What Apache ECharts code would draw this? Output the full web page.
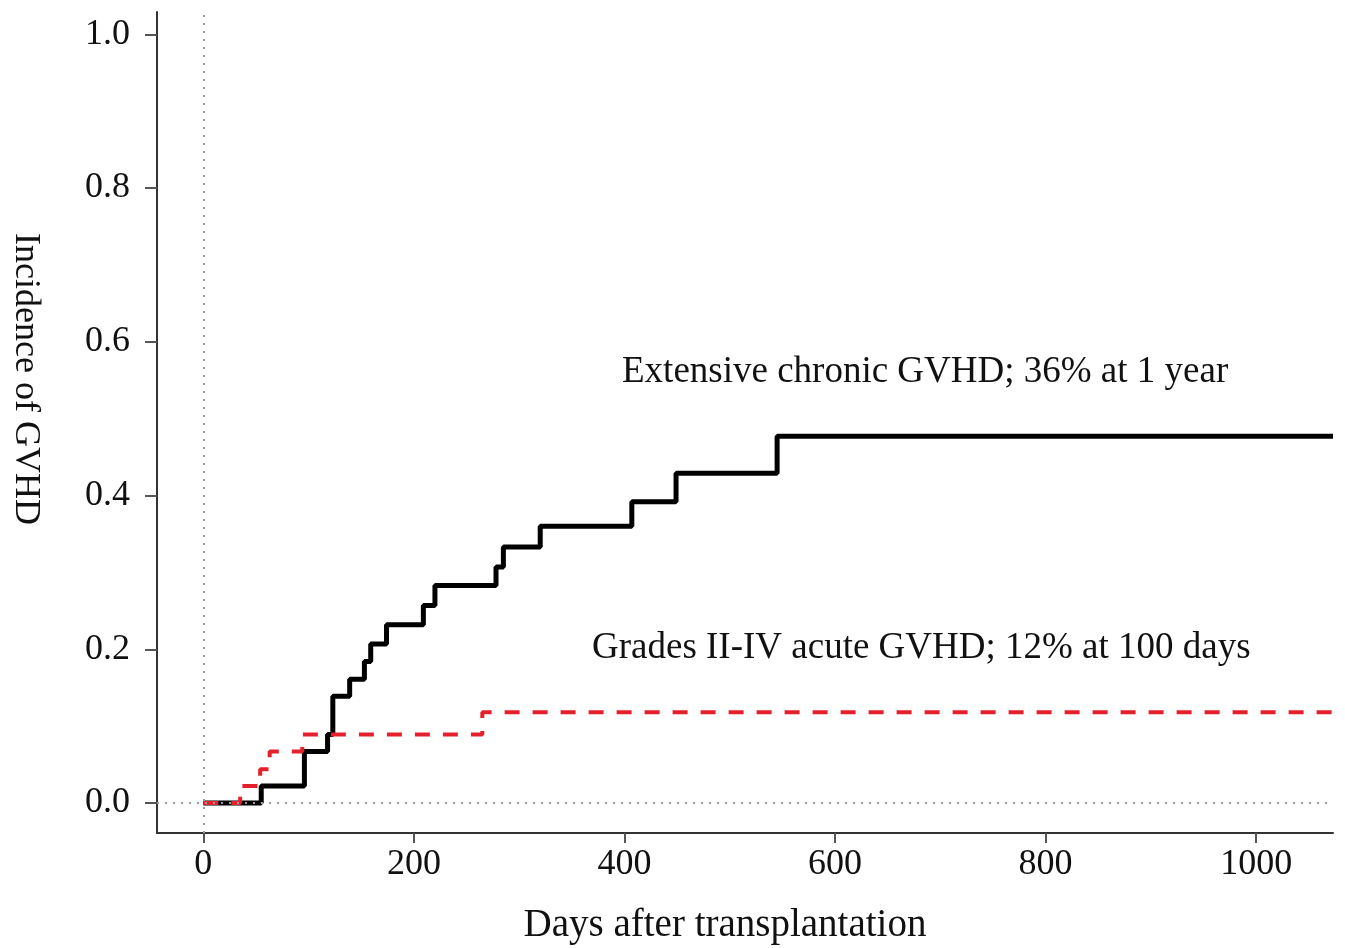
<!DOCTYPE html>
<html>
<head>
<meta charset="utf-8">
<script src="https://cdn.jsdelivr.net/npm/echarts@6/dist/echarts.min.js"></script>
<style>
    html, body { margin: 0; padding: 0; background: #fff; }
    #chart_container { width: 1345px; height: 948px; }
</style>
</head>
<body>
<div id="chart_container"></div>
<script>
// step curves (days, cumulative incidence)
const chronicDays = [0, 55, 96, 118, 123, 139, 153, 159, 174, 209, 220, 278, 285, 320, 407, 449, 545, 1073];
const chronicInc = [0, 0.022, 0.067, 0.089, 0.139, 0.161, 0.184, 0.207, 0.232, 0.257, 0.283, 0.307, 0.333, 0.36, 0.392, 0.429, 0.477, 0.477];
const acuteDays = [0, 35, 54, 63, 94, 265, 1073];
const acuteInc = [0, 0.022, 0.044, 0.067, 0.089, 0.118, 0.118];

const xTicks = [0, 200, 400, 600, 800, 1000];
const yTicks = [0, 0.2, 0.4, 0.6, 0.8, 1.0];

const chronicLabel = 'Extensive chronic GVHD; 36% at 1 year';
const acuteLabel = 'Grades II-IV acute GVHD; 12% at 100 days';
const xTitle = 'Days after transplantation';
const yTitle = 'Incidence of GVHD';

const serif = 'Liberation Serif';

const chart = echarts.init(document.getElementById('chart_container'), null, {renderer: 'canvas'});

const chronicData = chronicDays.map((d, i) => [d, chronicInc[i]]);
const acuteData = acuteDays.map((d, i) => [d, acuteInc[i]]);

const axisLine = {show: true, onZero: false, lineStyle: {color: '#333', width: 2}};

chart.setOption({
    animation: false,
    backgroundColor: '#fff',
    grid: {left: 157, right: 12, top: 12, bottom: 115, containLabel: false, outerBoundsMode: 'none'},
    xAxis: {
        type: 'value',
        min: -44,
        max: 1073,
        axisLine: axisLine,
        splitLine: {show: false},
        axisTick: {show: true, customValues: xTicks, length: 10, lineStyle: {color: '#555', width: 2}},
        axisLabel: {
            customValues: xTicks,
            margin: 14,
            color: '#111',
            fontFamily: serif,
            fontSize: 36,
            formatter: v => String(v)
        }
    },
    yAxis: {
        type: 'value',
        min: -0.039,
        max: 1.029,
        axisLine: axisLine,
        splitLine: {show: false},
        axisTick: {show: true, customValues: yTicks, length: 12, lineStyle: {color: '#555', width: 2}},
        axisLabel: {
            customValues: yTicks,
            margin: 27,
            color: '#111',
            fontFamily: serif,
            fontSize: 36,
            formatter: v => v.toFixed(1)
        }
    },
    series: [
        {
            type: 'line',
            step: 'end',
            data: chronicData,
            showSymbol: false,
            lineStyle: {color: '#000', width: 5},
            z: 3,
            markLine: {
                silent: true,
                symbol: 'none',
                label: {show: false},
                lineStyle: {color: '#999', type: [2, 6], width: 2},
                data: [{xAxis: 0}, {yAxis: 0}]
            }
        },
        {
            type: 'line',
            step: 'end',
            data: acuteData,
            showSymbol: false,
            lineStyle: {color: '#e3202b', width: 4, type: [15, 13]},
            z: 4
        }
    ],
    graphic: [
        {
            type: 'text',
            x: 622,
            y: 372,
            style: {text: chronicLabel, fill: '#111', font: '37px "' + serif + '"', verticalAlign: 'middle'}
        },
        {
            type: 'text',
            x: 592,
            y: 648,
            style: {text: acuteLabel, fill: '#111', font: '37px "' + serif + '"', verticalAlign: 'middle'}
        },
        {
            type: 'text',
            x: 725,
            y: 926,
            style: {text: xTitle, fill: '#111', font: '39px "' + serif + '"', align: 'center', verticalAlign: 'middle'}
        },
        {
            type: 'text',
            x: 25,
            y: 379,
            rotation: -Math.PI / 2,
            style: {text: yTitle, fill: '#111', font: '36px "' + serif + '"', align: 'center', verticalAlign: 'middle'}
        }
    ]
});

window.addEventListener('resize', function() {
    chart.resize();
});
</script>
</body>
</html>
